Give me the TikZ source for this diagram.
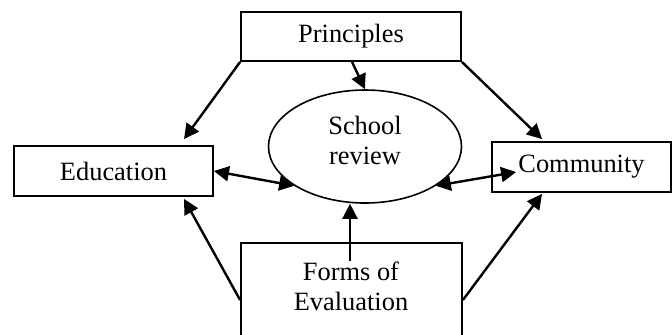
\documentclass[tikz,border=0pt]{standalone}
\usepackage{fontspec}
\setmainfont{Liberation Serif}
\usetikzlibrary{arrows.meta,shapes.geometric}
\begin{document}
\begin{tikzpicture}[x=0.5pt,y=-0.5pt,
  box/.style={draw,line width=0.9pt,rectangle,inner sep=0pt,font=\fontsize{13.2pt}{15pt}\selectfont},
  lbl/.style={inner sep=0pt,align=center,font=\fontsize{13.2pt}{15pt}\selectfont},
  conn/.style={line width=1.2pt,-{Triangle[length=7.5pt,width=7.5pt]}},
  both/.style={line width=1.2pt,{Triangle[length=7.5pt,width=7.5pt]}-{Triangle[length=7.5pt,width=7.5pt]}}]
\useasboundingbox (0,0) rectangle (672,334);
\clip (0,0) rectangle (672,334);
\node[box,minimum width=110pt,minimum height=24.5pt] (prin) at (351,36.5) {Principles};
\node[box,minimum width=99.5pt,minimum height=25pt] (edu) at (113.5,171) {Education};
\node[box,minimum width=89.5pt,minimum height=25pt] (com) at (581.5,167) {Community};
\node[draw,line width=0.8pt,ellipse,minimum width=96.5pt,minimum height=56.5pt,inner sep=0pt] (sr) at (365,146.5) {};
\node[lbl] (srt) at (365,140) {School\\review};
\node[box,minimum width=110.5pt,minimum height=57pt] (forms) at (351.5,300) {};
\node[lbl] (ft) at (351,286) {Forms of\\Evaluation};
\draw[conn] (prin.south west) -- ([xshift=35.25pt,yshift=3pt]edu.north);
\draw[conn] (prin.south east) -- ([xshift=-19.75pt,yshift=1pt]com.north);
\draw[conn] ([xshift=0.5pt]prin.south) -- (sr.north);
\draw[both] (edu.east) -- (sr.209.5);
\draw[both] (sr.331) -- ([xshift=12.5pt,yshift=-2.5pt]com.west);
\draw[conn] ([xshift=-0.75pt,yshift=-9.5pt]forms.north) -- ([xshift=-7.5pt]sr.south);
\draw[conn] (forms.west) -- ([xshift=35.25pt,yshift=-1pt]edu.south);
\draw[conn] (forms.east) -- ([xshift=-19.75pt,yshift=-0.5pt]com.south);
\end{tikzpicture}
\end{document}
